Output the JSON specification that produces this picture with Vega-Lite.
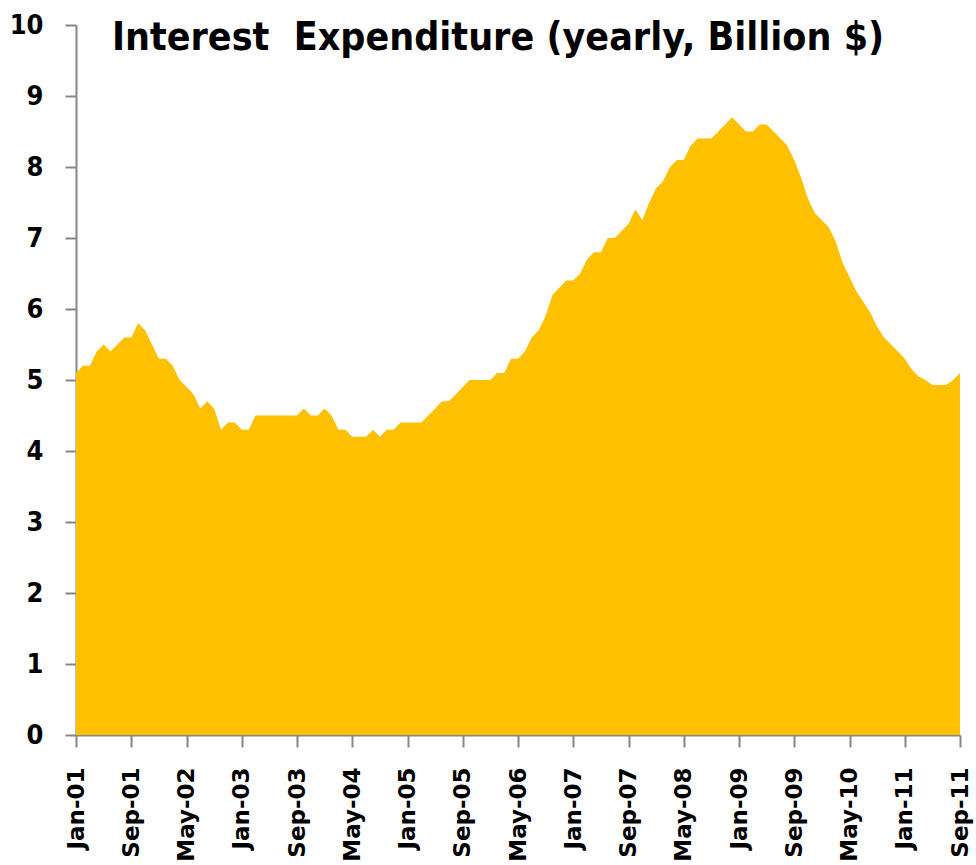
{
  "$schema": "https://vega.github.io/schema/vega-lite/v6.json",
  "autosize": "none",
  "width": 884,
  "height": 710,
  "padding": {"left": 76, "top": 25, "right": 16, "bottom": 130},
  "background": "white",
  "title": {
    "text": "Interest\u00a0 Expenditure (yearly, Billion $)",
    "font": "DejaVu Sans Condensed",
    "fontSize": 39,
    "fontWeight": "bold",
    "color": "#000000",
    "anchor": "middle",
    "offset": 0,
    "dy": 47,
    "dx": -20
  },
  "config": {"view": {"stroke": null}},
  "data": {
    "values": [
      {"month": "Jan-01", "value": 5.1}, {"month": "Feb-01", "value": 5.2}, {"month": "Mar-01", "value": 5.2}, {"month": "Apr-01", "value": 5.4},
      {"month": "May-01", "value": 5.5}, {"month": "Jun-01", "value": 5.4}, {"month": "Jul-01", "value": 5.5}, {"month": "Aug-01", "value": 5.6},
      {"month": "Sep-01", "value": 5.6}, {"month": "Oct-01", "value": 5.8}, {"month": "Nov-01", "value": 5.7}, {"month": "Dec-01", "value": 5.5},
      {"month": "Jan-02", "value": 5.3}, {"month": "Feb-02", "value": 5.3}, {"month": "Mar-02", "value": 5.2}, {"month": "Apr-02", "value": 5.0},
      {"month": "May-02", "value": 4.9}, {"month": "Jun-02", "value": 4.8}, {"month": "Jul-02", "value": 4.6}, {"month": "Aug-02", "value": 4.7},
      {"month": "Sep-02", "value": 4.6}, {"month": "Oct-02", "value": 4.3}, {"month": "Nov-02", "value": 4.4}, {"month": "Dec-02", "value": 4.4},
      {"month": "Jan-03", "value": 4.3}, {"month": "Feb-03", "value": 4.3}, {"month": "Mar-03", "value": 4.5}, {"month": "Apr-03", "value": 4.5},
      {"month": "May-03", "value": 4.5}, {"month": "Jun-03", "value": 4.5}, {"month": "Jul-03", "value": 4.5}, {"month": "Aug-03", "value": 4.5},
      {"month": "Sep-03", "value": 4.5}, {"month": "Oct-03", "value": 4.6}, {"month": "Nov-03", "value": 4.5}, {"month": "Dec-03", "value": 4.5},
      {"month": "Jan-04", "value": 4.6}, {"month": "Feb-04", "value": 4.5}, {"month": "Mar-04", "value": 4.3}, {"month": "Apr-04", "value": 4.3},
      {"month": "May-04", "value": 4.2}, {"month": "Jun-04", "value": 4.2}, {"month": "Jul-04", "value": 4.2}, {"month": "Aug-04", "value": 4.3},
      {"month": "Sep-04", "value": 4.2}, {"month": "Oct-04", "value": 4.3}, {"month": "Nov-04", "value": 4.3}, {"month": "Dec-04", "value": 4.4},
      {"month": "Jan-05", "value": 4.4}, {"month": "Feb-05", "value": 4.4}, {"month": "Mar-05", "value": 4.4}, {"month": "Apr-05", "value": 4.5},
      {"month": "May-05", "value": 4.6}, {"month": "Jun-05", "value": 4.7}, {"month": "Jul-05", "value": 4.7}, {"month": "Aug-05", "value": 4.8},
      {"month": "Sep-05", "value": 4.9}, {"month": "Oct-05", "value": 5.0}, {"month": "Nov-05", "value": 5.0}, {"month": "Dec-05", "value": 5.0},
      {"month": "Jan-06", "value": 5.0}, {"month": "Feb-06", "value": 5.1}, {"month": "Mar-06", "value": 5.1}, {"month": "Apr-06", "value": 5.3},
      {"month": "May-06", "value": 5.3}, {"month": "Jun-06", "value": 5.4}, {"month": "Jul-06", "value": 5.6}, {"month": "Aug-06", "value": 5.7},
      {"month": "Sep-06", "value": 5.9}, {"month": "Oct-06", "value": 6.2}, {"month": "Nov-06", "value": 6.3}, {"month": "Dec-06", "value": 6.4},
      {"month": "Jan-07", "value": 6.4}, {"month": "Feb-07", "value": 6.5}, {"month": "Mar-07", "value": 6.7}, {"month": "Apr-07", "value": 6.8},
      {"month": "May-07", "value": 6.8}, {"month": "Jun-07", "value": 7.0}, {"month": "Jul-07", "value": 7.0}, {"month": "Aug-07", "value": 7.1},
      {"month": "Sep-07", "value": 7.2}, {"month": "Oct-07", "value": 7.4}, {"month": "Nov-07", "value": 7.25}, {"month": "Dec-07", "value": 7.5},
      {"month": "Jan-08", "value": 7.7}, {"month": "Feb-08", "value": 7.8}, {"month": "Mar-08", "value": 8.0}, {"month": "Apr-08", "value": 8.1},
      {"month": "May-08", "value": 8.1}, {"month": "Jun-08", "value": 8.3}, {"month": "Jul-08", "value": 8.4}, {"month": "Aug-08", "value": 8.4},
      {"month": "Sep-08", "value": 8.4}, {"month": "Oct-08", "value": 8.5}, {"month": "Nov-08", "value": 8.6}, {"month": "Dec-08", "value": 8.7},
      {"month": "Jan-09", "value": 8.6}, {"month": "Feb-09", "value": 8.5}, {"month": "Mar-09", "value": 8.5}, {"month": "Apr-09", "value": 8.6},
      {"month": "May-09", "value": 8.6}, {"month": "Jun-09", "value": 8.5}, {"month": "Jul-09", "value": 8.4}, {"month": "Aug-09", "value": 8.3},
      {"month": "Sep-09", "value": 8.1}, {"month": "Oct-09", "value": 7.85}, {"month": "Nov-09", "value": 7.55}, {"month": "Dec-09", "value": 7.35},
      {"month": "Jan-10", "value": 7.25}, {"month": "Feb-10", "value": 7.15}, {"month": "Mar-10", "value": 6.95}, {"month": "Apr-10", "value": 6.65},
      {"month": "May-10", "value": 6.45}, {"month": "Jun-10", "value": 6.25}, {"month": "Jul-10", "value": 6.1}, {"month": "Aug-10", "value": 5.95},
      {"month": "Sep-10", "value": 5.75}, {"month": "Oct-10", "value": 5.6}, {"month": "Nov-10", "value": 5.5}, {"month": "Dec-10", "value": 5.4},
      {"month": "Jan-11", "value": 5.3}, {"month": "Feb-11", "value": 5.15}, {"month": "Mar-11", "value": 5.05}, {"month": "Apr-11", "value": 5.0},
      {"month": "May-11", "value": 4.93}, {"month": "Jun-11", "value": 4.93}, {"month": "Jul-11", "value": 4.93}, {"month": "Aug-11", "value": 5.0},
      {"month": "Sep-11", "value": 5.1}
    ]
  },
  "mark": {"type": "area", "color": "#FFC000", "interpolate": "linear"},
  "encoding": {
    "x": {
      "field": "month",
      "type": "ordinal",
      "sort": null,
      "scale": {"type": "point", "padding": 0},
      "axis": {
        "title": null,
        "values": ["Jan-01", "Sep-01", "May-02", "Jan-03", "Sep-03", "May-04", "Jan-05", "Sep-05", "May-06", "Jan-07", "Sep-07", "May-08", "Jan-09", "Sep-09", "May-10", "Jan-11", "Sep-11"],
        "labelAngle": -90,
        "labelAlign": "right",
        "labelBaseline": "middle",
        "labelFont": "DejaVu Sans",
        "labelFontSize": 23,
        "labelFontWeight": "bold",
        "labelColor": "#000000",
        "labelPadding": 20,
        "tickSize": 12,
        "tickWidth": 2,
        "tickColor": "#868686",
        "domainColor": "#868686",
        "domainWidth": 2,
        "grid": false
      }
    },
    "y": {
      "field": "value",
      "type": "quantitative",
      "scale": {"domain": [0, 10], "nice": false},
      "axis": {
        "title": null,
        "values": [0, 1, 2, 3, 4, 5, 6, 7, 8, 9, 10],
        "labelFont": "DejaVu Sans Condensed",
        "labelFontSize": 27,
        "labelFontWeight": "bold",
        "labelColor": "#000000",
        "labelPadding": 22,
        "tickSize": 11,
        "tickWidth": 2,
        "tickColor": "#868686",
        "domainColor": "#868686",
        "domainWidth": 2,
        "grid": false
      }
    }
  }
}
